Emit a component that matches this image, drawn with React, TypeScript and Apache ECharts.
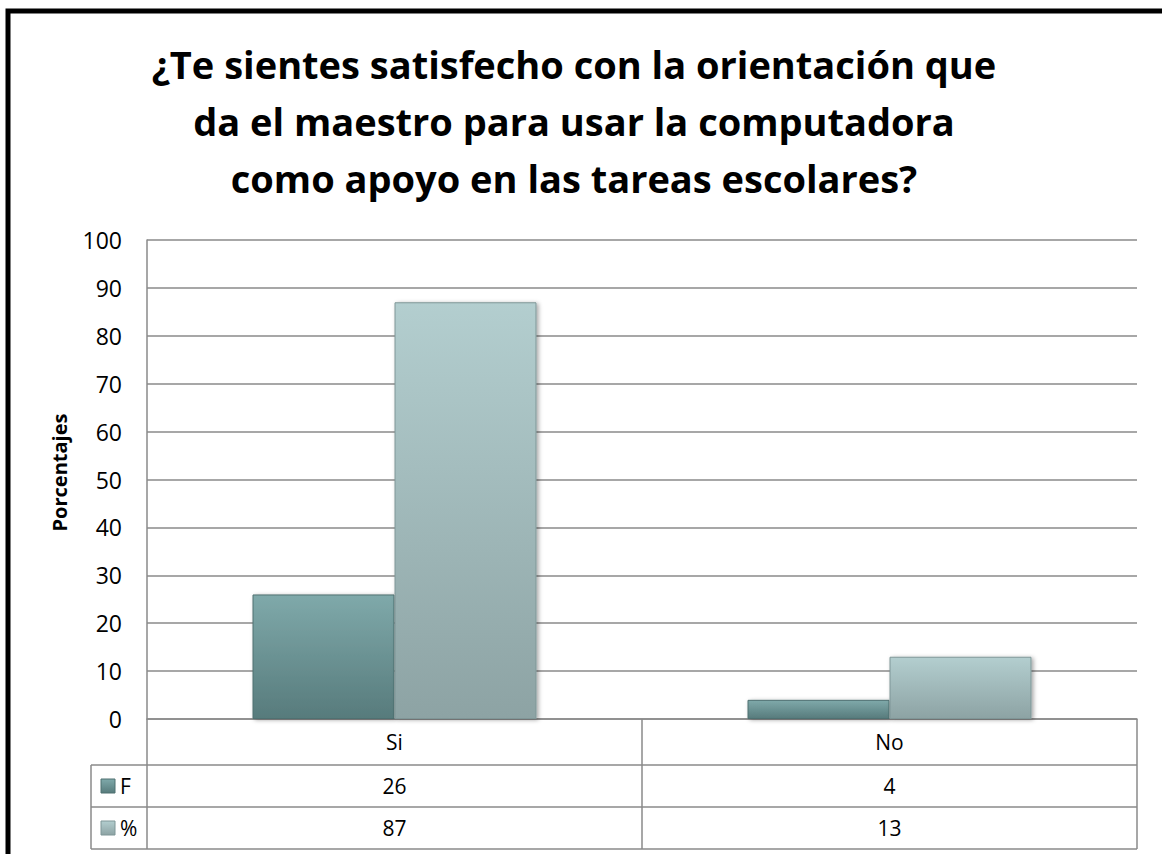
import React, { useEffect, useRef } from "react";
import * as echarts from "echarts";

const titleLines = [
  "¿Te sientes satisfecho con la orientación que",
  "da el maestro para usar la computadora",
  "como apoyo en las tareas escolares?",
];
const categories = ["Si", "No"];
const seriesNames = ["F", "%"];
const fValues = [26, 4];
const pctValues = [87, 13];
const yAxisName = "Porcentajes";
const yMin = 0;
const yMax = 100;
const yInterval = 10;

const FONT = "'Open Sans', 'DejaVu Sans', sans-serif";
const LINE = "#8a8a8a";

export default function App() {
  const ref = useRef<HTMLDivElement>(null);
  useEffect(() => {
    document.body.style.margin = "0";
    const chart = echarts.init(ref.current!, null, { renderer: "svg" });
    const gridLeft = 147;
    const gridRight = 25;
    const gridTop = 240;
    const gridBottom = 135;
    const W = 1162;
    const H = 854;
    const axisY = H - gridBottom; // 719
    const row1 = axisY + 46;
    const row2 = row1 + 42;
    const row3 = row2 + 42;
    const tableLeft = 91;
    const tableRight = W - gridRight;

    const mkF = () =>
      new echarts.graphic.LinearGradient(0, 0, 0, 1, [
        { offset: 0, color: "#7fa9aa" },
        { offset: 1, color: "#577b7c" },
      ]);
    const mkP = () =>
      new echarts.graphic.LinearGradient(0, 0, 0, 1, [
        { offset: 0, color: "#b3cecf" },
        { offset: 1, color: "#8da3a4" },
      ]);
    const seriesFills = [mkF, mkP];
    const rowCenters = [(row1 + row2) / 2, (row2 + row3) / 2];

    const legendGraphics: any[] = [];
    seriesNames.forEach((name, i) => {
      legendGraphics.push({
        type: "rect",
        shape: { x: 101, y: rowCenters[i] - 7, width: 14, height: 14 },
        style: { fill: seriesFills[i](), stroke: i === 0 ? "#4f7071" : "#7f9697", lineWidth: 1 },
      });
      legendGraphics.push({
        type: "text",
        x: 120,
        y: rowCenters[i],
        style: {
          text: name,
          fontFamily: FONT,
          fontSize: 21,
          fill: "#000",
          textAlign: "left",
          textVerticalAlign: "middle",
          verticalAlign: "middle",
        },
      });
    });

    chart.setOption({
      animation: false,
      backgroundColor: "#ffffff",
      title: {
        text: titleLines.join("\n"),
        left: 569,
        textAlign: "center",
        top: 30,
        textStyle: {
          fontFamily: FONT,
          fontWeight: "bold",
          fontSize: 38,
          lineHeight: 57,
          color: "#000",
        },
      },
      grid: { left: gridLeft, right: gridRight, top: gridTop, bottom: gridBottom, containLabel: false },
      xAxis: {
        type: "category",
        data: categories,
        axisLine: { show: true, lineStyle: { color: LINE, width: 1.5 } },
        axisTick: { show: true, interval: 0, length: row3 - axisY, lineStyle: { color: LINE, width: 1.5 } },
        axisLabel: {
          interval: 0,
          margin: 0,
          verticalAlign: "top",
          formatter: (v: string, i: number) =>
            `{c|${v}}\n{v|${fValues[i]}}\n{v|${pctValues[i]}}`,
          rich: {
            c: { fontFamily: FONT, fontSize: 21, color: "#000", lineHeight: 46 },
            v: { fontFamily: FONT, fontSize: 21, color: "#000", lineHeight: 42 },
          },
        },
      },
      yAxis: {
        type: "value",
        min: yMin,
        max: yMax,
        interval: yInterval,
        name: yAxisName,
        nameLocation: "middle",
        nameGap: 78,
        nameRotate: 90,
        nameTextStyle: { fontFamily: FONT, fontSize: 20, fontWeight: "bold", color: "#000", padding: [0, 0, 0, 14] },
        axisLine: { show: true, lineStyle: { color: LINE, width: 1.5 } },
        axisTick: { show: false },
        axisLabel: { fontFamily: FONT, fontSize: 23, color: "#000", margin: 25 },
        splitLine: { show: true, lineStyle: { color: LINE, width: 1.5 } },
      },
      series: [
        {
          name: seriesNames[0],
          type: "bar",
          data: fValues,
          barWidth: 142,
          barGap: "0%",
          itemStyle: {
            color: mkF(),
            borderColor: "#4f7071",
            borderWidth: 1,
            shadowColor: "rgba(0,0,0,0.35)",
            shadowBlur: 4,
            shadowOffsetX: 2,
            shadowOffsetY: 1,
          },
        },
        {
          name: seriesNames[1],
          type: "bar",
          data: pctValues,
          barWidth: 142,
          barGap: "0%",
          itemStyle: {
            color: mkP(),
            borderColor: "#7f9697",
            borderWidth: 1,
            shadowColor: "rgba(0,0,0,0.35)",
            shadowBlur: 4,
            shadowOffsetX: 2,
            shadowOffsetY: 1,
          },
        },
      ],
      graphic: [
        {
          type: "rect",
          shape: { x: 8, y: 11, width: 1300, height: 1000 },
          style: { fill: "none", stroke: "#000", lineWidth: 5 },
          z: 100,
        },
        {
          type: "polyline",
          shape: { points: [[tableLeft, row1], [tableRight, row1]] },
          style: { stroke: LINE, lineWidth: 1.5, fill: "none" },
        },
        {
          type: "polyline",
          shape: { points: [[tableLeft, row2], [tableRight, row2]] },
          style: { stroke: LINE, lineWidth: 1.5, fill: "none" },
        },
        {
          type: "polyline",
          shape: { points: [[tableLeft, row3], [tableRight, row3]] },
          style: { stroke: LINE, lineWidth: 1.5, fill: "none" },
        },
        {
          type: "polyline",
          shape: { points: [[tableLeft, row1], [tableLeft, row3]] },
          style: { stroke: LINE, lineWidth: 1.5, fill: "none" },
        },
        ...legendGraphics,
      ],
    });
    return () => chart.dispose();
  }, []);
  return <div ref={ref} style={{ width: 1162, height: 854 }} />;
}
